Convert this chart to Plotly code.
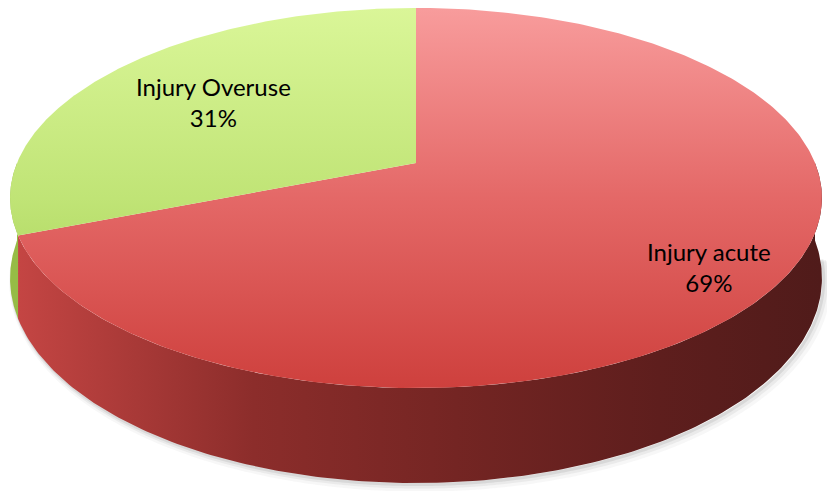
import numpy as np
import plotly.graph_objects as go

# Slice data
categories = ["Injury acute", "Injury Overuse"]
values = [69, 31]

# Gradients for the top face and the side wall of each slice
top_colors = {
    "Injury acute": [[0, "rgb(248,156,156)"], [0.5, "rgb(228,104,103)"], [1, "rgb(206,64,61)"]],
    "Injury Overuse": [[0, "rgb(218,246,152)"], [0.5, "rgb(192,228,118)"], [1, "rgb(156,202,74)"]],
}
side_colors = {
    "Injury acute": [[0, "rgb(198,70,68)"], [0.3, "rgb(140,45,43)"], [0.55, "rgb(116,37,35)"],
                     [0.8, "rgb(94,30,29)"], [1, "rgb(80,27,26)"]],
    "Injury Overuse": [[0, "rgb(150,188,70)"], [1, "rgb(140,178,62)"]],
}

# Projection of the tilted disc onto the page (pixel space)
CX, CY = 416.0, 163.0        # projected centre of the pie
A, B = 399.0, 183.6          # horizontal / vertical scale
K = 0.1842                   # perspective foreshortening
DEPTH = 77.5                 # thickness of the disc


def proj(theta_deg, r=1.0, depth=0.0):
    t = np.radians(theta_deg)
    u, v = r * np.cos(t), r * np.sin(t)
    w = 1 + K * v
    return CX + A * u / w, CY - B * v / w + depth / w


# Slice angles: start at 12 o'clock, clockwise
total = sum(values)
angles = []
start = 90.0
for v in values:
    sweep = 360.0 * v / total
    angles.append((start - sweep, start))   # counter-clockwise range [a0, a1]
    start -= sweep

fig = go.Figure()

# Soft shadow below the front rim
for off, alpha, lw in [(7, 0.05, 10), (5, 0.08, 6), (3, 0.12, 3)]:
    tt = np.linspace(185, 355, 200)
    sx, sy = proj(tt, depth=DEPTH)
    fig.add_trace(go.Scatter(x=sx + off * 0.6, y=sy + off * 0.5, mode="lines",
                             line=dict(color=f"rgba(90,90,90,{alpha})", width=lw, shape="spline"),
                             hoverinfo="skip", showlegend=False))

# Side walls (only the front half, 180..360 deg, is visible)
for cat, (a0, a1) in zip(categories, angles):
    segs = []
    for base in (0, 360, -360):
        s0, s1 = a0 + base, a1 + base
        v0, v1 = max(s0, 180), min(s1, 360)
        if v1 > v0:
            segs.append((v0, v1))
    for v0, v1 in segs:
        tt = np.linspace(v0, v1, 200)
        tx, ty = proj(tt)
        bx, by = proj(tt[::-1], depth=DEPTH)
        fig.add_trace(go.Scatter(
            x=np.concatenate([tx, bx, tx[:1]]), y=np.concatenate([ty, by, ty[:1]]),
            mode="lines", fill="toself", line=dict(width=0),
            fillgradient=dict(type="horizontal", colorscale=side_colors[cat], start=10, stop=822),
            hoverinfo="skip", showlegend=False))

# Top faces
for cat, (a0, a1) in zip(categories, angles):
    tt = np.linspace(a0, a1, 300)
    ax, ay = proj(tt)
    fig.add_trace(go.Scatter(
        x=np.concatenate([[CX], ax, [CX]]), y=np.concatenate([[CY], ay, [CY]]),
        mode="lines", fill="toself", line=dict(width=0),
        fillgradient=dict(type="vertical", colorscale=top_colors[cat], start=8, stop=388),
        hoverinfo="skip", showlegend=False))

# Slice labels near the middle of each slice
label_r = {"Injury acute": 0.85, "Injury Overuse": 0.65}
label_shift = {"Injury acute": (-15, -8), "Injury Overuse": (-2, -2)}
for cat, val, (a0, a1) in zip(categories, values, angles):
    lx, ly = proj((a0 + a1) / 2, r=label_r[cat])
    dx, dy = label_shift[cat]
    fig.add_annotation(x=float(lx), y=float(ly), text=f"{cat}<br>{val}%", showarrow=False,
                       xshift=dx, yshift=dy,
                       font=dict(family="Lato", size=24, color="black"))

fig.update_layout(
    width=827, height=491,
    margin=dict(l=0, r=0, t=0, b=0),
    paper_bgcolor="white", plot_bgcolor="white",
    xaxis=dict(range=[0, 827], visible=False, fixedrange=True),
    yaxis=dict(range=[491, 0], visible=False, fixedrange=True),
)

fig.write_html("out.html")
